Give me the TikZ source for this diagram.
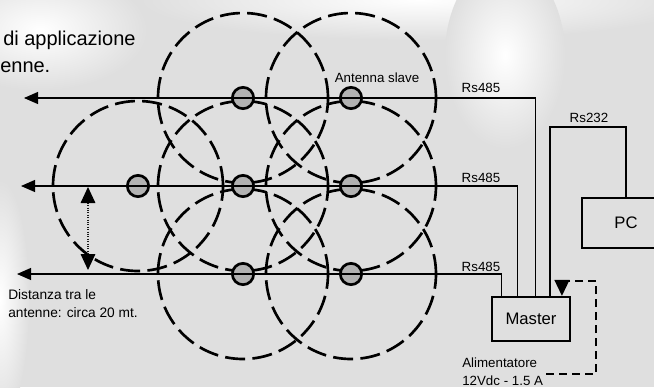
\documentclass[tikz,border=0pt]{standalone}
\usepackage{fontspec}
\setmainfont{Liberation Sans}
\usetikzlibrary{calc,positioning,arrows.meta}

\tikzset{
  sfondo/.style={inner color=white,outer color=gray!25},
  campo/.style={line width=2pt,dash pattern=on 15pt off 5.5pt},
  antenna/.style={circle,draw,line width=2pt,fill=gray!60,minimum size=16pt,inner sep=0pt},
  unita/.style={draw,line width=1.6pt,inner sep=0pt,font=\fontsize{12.5}{14}\selectfont},
  bus/.style={line width=0.8pt,-{Triangle[length=10.5pt,width=9pt]}},
  rs232/.style={line width=1.6pt},
  alim/.style={line width=1.6pt,dash pattern=on 6pt off 3.75pt,-{Triangle[length=12pt,width=11pt]}},
  distanza/.style={line width=0.8pt,densely dotted,gray!20!black,
    {Triangle[length=12pt,width=11pt,color=black]}-{Triangle[length=12pt,width=11pt,color=black]}},
  testo/.style={font=\fontsize{10}{12}\selectfont,inner sep=0pt}
}

\begin{document}
\begin{tikzpicture}[x=0.75pt,y=-0.75pt]
\useasboundingbox[fill=gray!25] (0,0) rectangle (654,387);

% sfondo
\shade[sfondo] (420,0) ellipse [x radius=210pt,y radius=30pt];
\shade[sfondo] (505,55) ellipse [x radius=45pt,y radius=70pt];
\shade[sfondo] (40,30) ellipse [x radius=80pt,y radius=45pt];
\shade[sfondo] (0,300) ellipse [x radius=22pt,y radius=90pt];

% zone di copertura
\foreach \x/\y in {138/186,243/98,243/186,243/274,351/98,351/186,351/274}
  \draw[campo] (\x,\y) circle[radius=63.75pt];

% antenne slave
\foreach \x/\y/\n in {138/186/ant1,243/98/ant2,243/186/ant3,243/274/ant4,351/98/ant5,351/186/ant6,351/274/ant7}
  \node[antenna] (\n) at (\x,\y) {};

% unita
\node[unita,minimum width=58.5pt,minimum height=33pt] (master) at (531,319) {Master};
\node[unita,minimum width=66pt,minimum height=37.5pt] (pc) at (626,223) {PC};

% linee Rs485
\coordinate (fine1) at (24,98);
\coordinate (fine2) at (21,186);
\coordinate (fine3) at (17,274);
\draw[bus] ($(master.north west)+(45,0)$) |- (fine1);
\draw[bus] ($(master.north west)+(27,0)$) |- (fine2);
\draw[bus] ($(master.north west)+(11,0)$) |- (fine3);

% linea Rs232
\draw[rs232] ($(master.north west)+(59,0)$) |- ($(pc.north)+(0,-70)$) -- (pc.north);

% alimentazione
\coordinate (alimentatore) at (546,374);
\draw[alim] (alimentatore) -| (596,281) -| ($(master.north west)+(71,0)$);

% distanza
\coordinate (d1) at (88,187);
\coordinate (d2) at (88,270);
\draw[distanza] (d1) -- (d2);

% testi
\node[testo,font=\fontsize{15}{18}\selectfont,anchor=base west] (titolo1) at (3,45) {di applicazione};
\node[testo,font=\fontsize{15}{18}\selectfont,anchor=base west] (titolo2) at (0,72) {enne.};
\node[testo,anchor=base] (slave) at (377,82) {Antenna slave};
\node[testo,anchor=base] (rs1) at (481,92) {Rs485};
\node[testo,anchor=base] (rs2) at (481,182) {Rs485};
\node[testo,anchor=base] (rs3) at (481,271) {Rs485};
\node[testo,anchor=base] (rs232lbl) at (589,122) {Rs232};
\node[testo,font=\fontsize{10.3}{12}\selectfont,anchor=base west] (dist1) at (8,299) {Distanza tra le};
\node[testo,font=\fontsize{10.3}{12}\selectfont,anchor=base west] (dist2) at (8,317) {antenne: circa 20 mt.};
\node[testo,anchor=base west] (alim1) at (462,367) {Alimentatore};
\node[testo,anchor=base west] (alim2) at (462,385) {12Vdc - 1.5 A};
\end{tikzpicture}
\end{document}
